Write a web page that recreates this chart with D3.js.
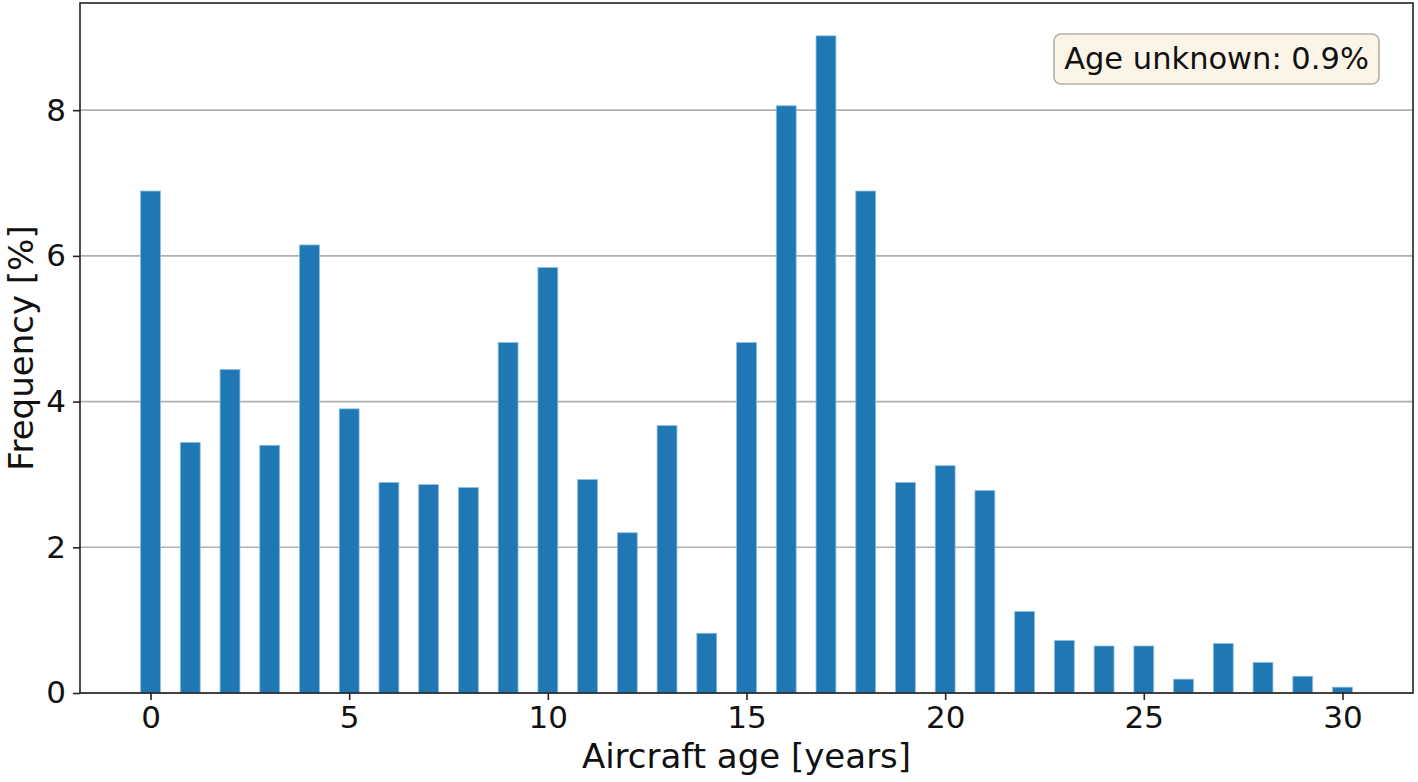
<!DOCTYPE html>
<html>
<head>
<meta charset="utf-8">
<script src="https://cdn.jsdelivr.net/npm/d3@7"></script>
<style>
  html, body { margin: 0; padding: 0; background: #fff; }
  svg { display: block; font-family: "DejaVu Sans", sans-serif; }
</style>
</head>
<body>
<svg id="chart" width="1418" height="782"></svg>
<script>
const ages = d3.range(0, 31);
const frequency = [6.89, 3.44, 4.44, 3.40, 6.15, 3.90, 2.89, 2.86, 2.82, 4.81,
                   5.84, 2.93, 2.20, 3.67, 0.82, 4.81, 8.06, 9.02, 6.89, 2.89,
                   3.12, 2.78, 1.12, 0.72, 0.645, 0.645, 0.19, 0.68, 0.42, 0.23, 0.08];
const xTicks = [0, 5, 10, 15, 20, 25, 30];
const yTicks = [0, 2, 4, 6, 8];
const annotationText = "Age unknown: 0.9%";
const xLabel = "Aircraft age [years]";
const yLabel = "Frequency [%]";

const svg = d3.select("#chart");
const L = 80, R = 1413, T = 3, B = 693;
const barW = 0.5;

const x = d3.scaleLinear().domain([-1.775, 31.775]).range([L, R]);
const y = d3.scaleLinear().domain([0, 9.471]).range([B, T]);

// grid
svg.append("g").selectAll("line").data(yTicks).join("line")
  .attr("x1", L).attr("x2", R)
  .attr("y1", d => y(d)).attr("y2", d => y(d))
  .attr("stroke", "#b0b0b0").attr("stroke-width", 1.6);

// bars
svg.append("g").selectAll("rect").data(ages).join("rect")
  .attr("x", (d) => x(d - barW / 2))
  .attr("width", (d) => x(d + barW / 2) - x(d - barW / 2))
  .attr("y", (d, i) => y(frequency[i]))
  .attr("height", (d, i) => B - y(frequency[i]))
  .attr("fill", "#1f77b4")
  .attr("stroke", "#8fbde0").attr("stroke-width", 0.8);

// axes
const xAxis = d3.axisBottom(x).tickValues(xTicks).tickSize(7).tickPadding(6).tickFormat(d3.format("d"));
const yAxis = d3.axisLeft(y).tickValues(yTicks).tickSize(7).tickPadding(7).tickFormat(d3.format("d"));

const gx = svg.append("g").attr("transform", `translate(0,${B})`).call(xAxis);
const gy = svg.append("g").attr("transform", `translate(${L},0)`).call(yAxis);
[gx, gy].forEach(g => {
  g.select(".domain").remove();
  g.selectAll(".tick line").attr("stroke", "#222").attr("stroke-width", 1.6);
  g.selectAll(".tick text").attr("fill", "#111").style("font-size", "31px")
    .style("font-family", "DejaVu Sans, sans-serif");
});

// frame
svg.append("rect").attr("x", L).attr("y", T).attr("width", R - L).attr("height", B - T)
  .attr("fill", "none").attr("stroke", "#222").attr("stroke-width", 1.6);

// labels
svg.append("text").attr("x", (L + R) / 2).attr("y", 768).attr("text-anchor", "middle")
  .style("font-size", "34px").attr("fill", "#111").text(xLabel);
svg.append("text").attr("transform", `translate(33,${(T + B) / 2}) rotate(-90)`)
  .attr("text-anchor", "middle").style("font-size", "34px").attr("fill", "#111").text(yLabel);

// annotation box
const ann = svg.append("g");
ann.append("rect")
  .attr("x", 1054).attr("y", 34).attr("width", 325).attr("height", 50)
  .attr("rx", 7).attr("ry", 7)
  .attr("fill", "#fbf4e7").attr("stroke", "#b3b0aa").attr("stroke-width", 1.6);
ann.append("text").attr("x", 1216.5).attr("y", 69).attr("text-anchor", "middle")
  .style("font-size", "30.5px").attr("fill", "#111").text(annotationText);
</script>
</body>
</html>
